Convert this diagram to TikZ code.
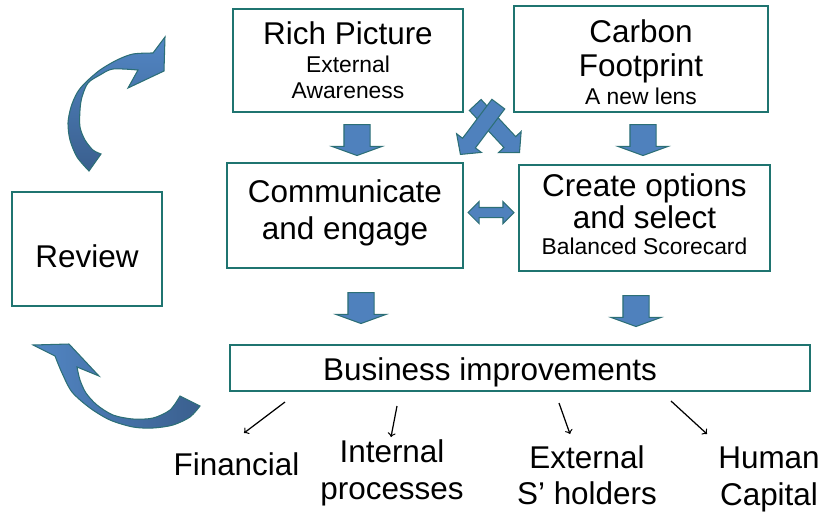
\documentclass[tikz,border=0pt]{standalone}
\usepackage{fontspec}
\setmainfont{Liberation Sans}
\usepackage{xcolor}
\usepackage{tikz}
\usetikzlibrary{shapes.arrows}

\definecolor{boxline}{HTML}{1F7470}
\definecolor{arrowfill}{HTML}{4F81BD}
\definecolor{arrowline}{HTML}{2C6F76}
\definecolor{curvelight}{HTML}{5286C4}
\definecolor{curvedark}{HTML}{3A5F8E}

\newcommand{\bigtxt}{\fontsize{17.9}{19.3}\selectfont}
\newcommand{\smalltxt}{\fontsize{13}{15}\selectfont}

\tikzset{
    box/.style = {draw = boxline, line width = 1.6pt, inner sep = 0pt},
    lbl/.style = {inner sep = 0pt, align = center, font = \bigtxt},
    blockarrow/.style = {draw = arrowline, fill = arrowfill, line width = 0.6pt,
        inner xsep = 0pt, minimum width = 0pt},
    downarrow/.style = {blockarrow, single arrow, inner ysep = 0.25cm,
        single arrow head extend = 0.24cm, single arrow tip angle = 140,
        minimum height = 0.62cm, rotate = -90, anchor = tail},
    slantarrow/.style = {blockarrow, single arrow, inner ysep = 0.15cm,
        single arrow head extend = 0.15cm, single arrow tip angle = 95,
        anchor = tip},
    pointer/.style = {->, line width = 0.7pt},
    curved/.style = {draw = arrowline, line width = 0.6pt}
}

\begin{document}
\begin{tikzpicture}[x = 0.02cm, y = -0.02cm]
        \useasboundingbox (0, 0) rectangle (825, 511);

        % the five boxes
        \node[box, minimum width = 4.6cm, minimum height = 2.06cm] (rich) at (348, 60.5) {};
        \node[box, minimum width = 5.08cm, minimum height = 2.12cm] (carbon) at (641, 59) {};
        \node[box, minimum width = 4.72cm, minimum height = 2.1cm] (comm) at (345, 215.5) {};
        \node[box, minimum width = 5.02cm, minimum height = 2.12cm] (create) at (644.5, 218) {};
        \node[box, minimum width = 3cm, minimum height = 2.28cm] (review) at (87, 249) {};
        \node[box, minimum width = 11.6cm, minimum height = 0.92cm] (biz) at (520, 368) {};

        \node[lbl] (richtext) at (rich)
            {Rich Picture\\[-3.5pt]\smalltxt External\\[-4.5pt]\smalltxt Awareness};
        \node[lbl, yshift = -1.7pt] (carbontext) at (carbon)
            {Carbon\\Footprint\\[-3.5pt]\smalltxt A new lens};
        \node[lbl, yshift = 1.4pt] (commtext) at (comm) {Communicate\\[2pt]and engage};
        \node[lbl, yshift = 2.3pt] (createtext) at (create)
            {Create options\\[-1.2pt]and select\\[-4.5pt]\smalltxt Balanced Scorecard};
        \node[lbl, yshift = -4pt] (reviewtext) at (review) {Review};
        \node[lbl, anchor = base] (biztext) at (490, 380) {Business improvements};

        % block arrows
        \node[downarrow] (richdown) at (357, 124) {};
        \node[downarrow] (carbondown) at (643, 124) {};
        \node[downarrow] (commdown) at (361, 292) {};
        \node[downarrow] (createdown) at (636, 295) {};
        \node[slantarrow, minimum height = 1.3cm, rotate = -47] (crossright) at (520, 153) {};
        \node[slantarrow, minimum height = 1.26cm, rotate = 233] (crossleft) at (460, 155) {};
        \node[blockarrow, double arrow, inner ysep = 0.09cm, double arrow head extend = 0.12cm,
            minimum height = 0.92cm] (swap) at (491, 212.5) {};

        % review loop
        \path[curved, top color = curvelight, bottom color = curvedark]
            (89, 171) -- plot[smooth] coordinates {(89, 171) (77, 157) (70, 140) (68, 123)
                (71, 107) (77, 93) (85, 83) (100, 70) (117, 60) (133, 54) (153, 53)}
            -- (165, 37) -- (164, 71) -- (128, 88)
            -- plot[smooth] coordinates {(138, 70) (113, 69) (100, 75) (88, 83) (82, 97)
                (80, 110) (80, 127) (85, 140) (93, 150) (101, 154)} -- cycle;
        \path[curved, left color = curvelight, right color = curvedark]
            (33, 345) -- (69, 344) -- (99, 376)
            -- plot[smooth] coordinates {(77, 367) (80, 380) (86, 393) (97, 405) (113, 415)
                (133, 419) (153, 418) (170, 410) (180, 396)}
            -- (200, 406)
            -- plot[smooth] coordinates {(200, 406) (190, 417) (173, 425) (153, 428) (133, 427)
                (110, 420) (90, 408) (72, 392) (62, 373) (55, 356)} -- cycle;

        % outcomes
        \node[lbl, anchor = base] (fin) at (236.5, 475) {Financial};
        \node[lbl] (intl) at (392, 473) {Internal\\[1.5pt]processes};
        \node[lbl] (extl) at (587, 475.5) {External\\[1.3pt]S’ holders};
        \node[lbl] (huml) at (769, 479.5) {Human\\[1.5pt]Capital};

        \coordinate (finA) at (285, 402);
        \coordinate (finB) at (244, 433);
        \coordinate (intA) at (397, 406);
        \coordinate (intB) at (391, 437);
        \coordinate (extA) at (559, 403);
        \coordinate (extB) at (570, 434);
        \coordinate (humA) at (671, 401);
        \coordinate (humB) at (707, 434);
        \draw[pointer] (finA) -- (finB);
        \draw[pointer] (intA) -- (intB);
        \draw[pointer] (extA) -- (extB);
        \draw[pointer] (humA) -- (humB);
    \end{tikzpicture}
\end{document}
